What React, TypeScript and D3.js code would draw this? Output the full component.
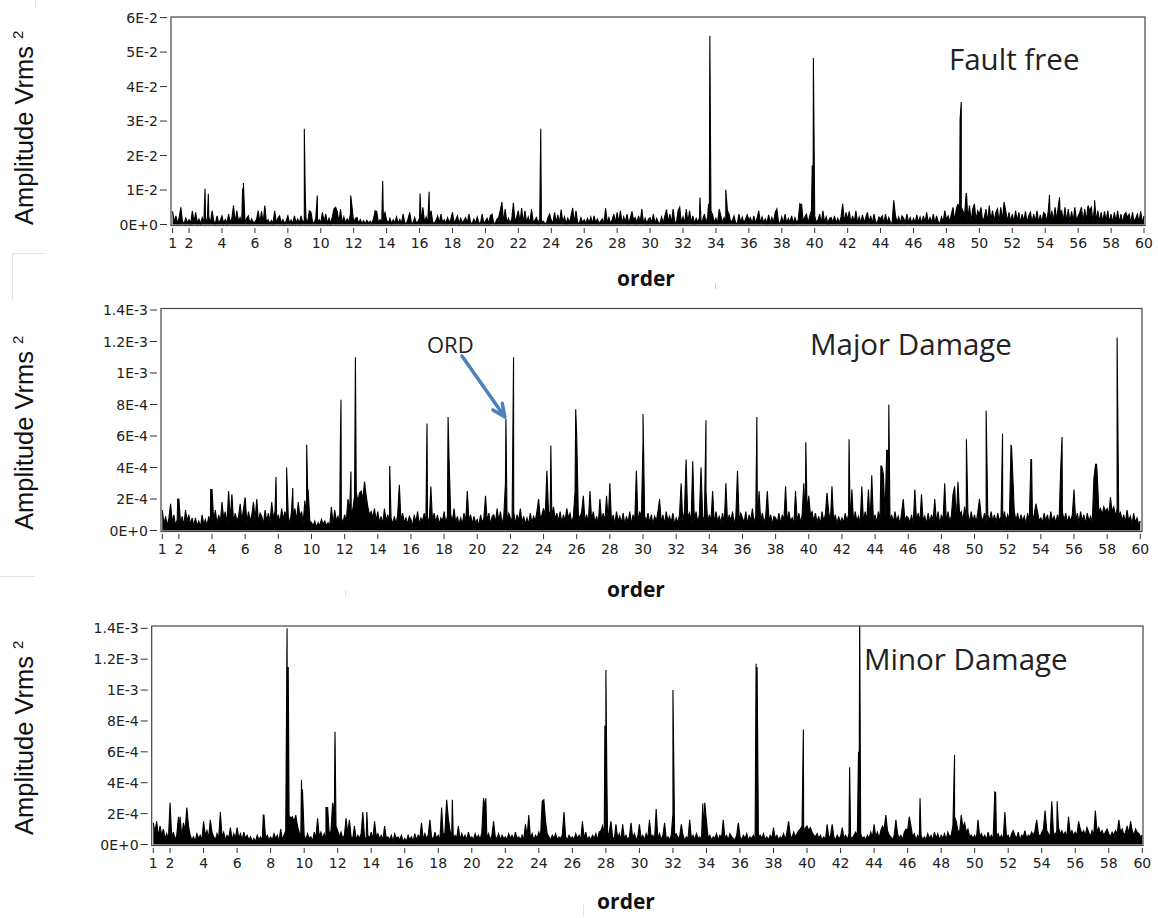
import React from "react";
import * as d3 from "d3";

// ---------- shared axis data ----------
const ORDER_START = 1;
const ORDER_STEP = 0.1;
const xTickValues = [1, 2, 4, 6, 8, 10, 12, 14, 16, 18, 20, 22, 24, 26, 28, 30, 32, 34, 36, 38, 40, 42, 44, 46, 48, 50, 52, 54, 56, 58, 60];

const ffYTicks = [0, 0.01, 0.02, 0.03, 0.04, 0.05, 0.06];
const ffYLabels = ["0E+0", "1E-2", "2E-2", "3E-2", "4E-2", "5E-2", "6E-2"];
const dmgYTicks = [0, 0.0002, 0.0004, 0.0006, 0.0008, 0.001, 0.0012, 0.0014];
const dmgYLabels = ["0E+0", "2E-4", "4E-4", "6E-4", "8E-4", "1E-3", "1.2E-3", "1.4E-3"];

// ---------- Fault free (units of 1E-4), sampled every 0.1 order from 1 ----------
const FF_UNIT = 1e-4;
const faultFreeNoise = [
  38, 6, 25, 4, 20, 50, 8, 3, 18, 5,
  14, 3, 40, 6, 35, 4, 16, 3, 20, 6,
  18, 4, 22, 5, 40, 10, 3, 25, 4, 12,
  25, 4, 15, 3, 30, 6, 18, 55, 5, 40,
  10, 20, 4, 14, 3, 18, 25, 4, 16, 6,
  8, 15, 40, 5, 38, 4, 55, 6, 14, 3,
  12, 3, 40, 5, 18, 25, 4, 14, 3, 11,
  25, 4, 13, 3, 25, 5, 16, 4, 25, 6,
  12, 18, 4, 40, 36, 8, 3, 20, 5, 14,
  5, 35, 8, 30, 4, 18, 3, 22, 45, 50,
  38, 6, 45, 4, 22, 5, 16, 8, 30, 50,
  5, 18, 20, 3, 14, 4, 11, 3, 12, 4,
  10, 3, 16, 40, 38, 5, 14, 4, 22, 35,
  12, 4, 18, 3, 14, 5, 22, 4, 15, 3,
  30, 5, 4, 16, 35, 6, 3, 20, 5, 8,
  18, 4, 50, 6, 22, 5, 20, 40, 6, 4,
  12, 25, 4, 30, 5, 14, 3, 20, 6, 16,
  35, 4, 14, 25, 3, 18, 5, 12, 20, 4,
  30, 6, 3, 16, 4, 22, 6, 3, 30, 5,
  10, 18, 4, 25, 30, 5, 3, 16, 20, 40,
  65, 8, 45, 5, 18, 4, 16, 63, 6, 22,
  40, 5, 48, 4, 40, 6, 22, 4, 45, 6,
  12, 20, 3, 18, 5, 10, 4, 3, 20, 30,
  12, 4, 35, 6, 28, 4, 43, 6, 22, 3,
  18, 5, 25, 48, 4, 40, 6, 3, 20, 5,
  14, 3, 18, 4, 22, 3, 25, 5, 16, 3,
  10, 16, 3, 47, 5, 20, 4, 14, 30, 5,
  35, 5, 40, 3, 22, 6, 30, 4, 18, 38,
  12, 20, 4, 25, 6, 45, 4, 18, 3, 16,
  20, 5, 30, 3, 18, 6, 3, 22, 5, 25,
  43, 6, 30, 4, 45, 8, 5, 40, 50, 6,
  22, 4, 45, 6, 40, 5, 25, 3, 18, 6,
  20, 6, 14, 30, 5, 22, 8, 40, 28, 6,
  18, 5, 45, 25, 6, 20, 8, 40, 30, 6,
  12, 25, 5, 3, 30, 6, 22, 4, 16, 28,
  14, 20, 3, 25, 5, 18, 40, 4, 22, 6,
  16, 4, 28, 5, 20, 6, 35, 45, 8, 4,
  22, 5, 30, 3, 18, 6, 25, 4, 20, 6,
  14, 60, 55, 8, 22, 30, 5, 25, 40, 35,
  25, 6, 14, 30, 4, 40, 6, 22, 3, 18,
  20, 5, 25, 4, 18, 5, 22, 60, 6, 35,
  14, 38, 4, 25, 6, 40, 4, 22, 5, 28,
  5, 20, 35, 6, 25, 4, 30, 8, 5, 22,
  16, 25, 4, 30, 5, 20, 6, 4, 70, 28,
  6, 22, 4, 25, 18, 5, 30, 6, 20, 4,
  18, 5, 28, 6, 22, 4, 25, 6, 35, 5,
  20, 6, 30, 4, 25, 8, 4, 22, 6, 40,
  14, 25, 8, 30, 50, 10, 45, 60, 35, 50,
  40, 25, 90, 15, 55, 10, 45, 60, 12, 40,
  30, 50, 10, 20, 45, 8, 55, 12, 40, 10,
  35, 45, 8, 50, 12, 65, 40, 10, 35, 8,
  30, 6, 40, 10, 35, 5, 30, 8, 38, 6,
  25, 35, 6, 30, 8, 40, 5, 28, 6, 35,
  30, 8, 45, 6, 40, 10, 50, 12, 55, 35,
  40, 10, 50, 8, 45, 6, 38, 10, 50, 12,
  25, 35, 50, 8, 45, 10, 55, 40, 50, 8,
  55, 10, 40, 8, 35, 6, 38, 10, 40, 6,
  30, 5, 35, 8, 40, 5, 30, 4, 28, 35,
  20, 30, 5, 35, 8, 18, 30, 6, 38, 5,
  25,
];
const faultFreePeaks: [number, number][] = [
  [2.97, 104], [3.17, 89], [5.25, 104], [5.3, 120], [9.0, 278], [9.06, 80], [9.79, 84],
  [11.82, 84], [13.76, 126], [16.03, 90], [16.58, 95], [23.36, 278], [33.03, 78],
  [33.55, 60], [33.63, 547], [34.6, 101], [39.2, 60], [39.85, 171], [39.92, 483],
  [48.83, 305], [48.9, 355], [49.22, 90], [54.26, 86], [54.87, 79], [57.0, 70],
];

// ---------- Major Damage (units of 1E-5) ----------
const DMG_UNIT = 1e-5;
const majorNoise = [
  13, 4, 9, 3, 8, 17, 5, 10, 3, 7,
  20, 5, 9, 3, 13, 6, 10, 4, 8, 3,
  8, 3, 6, 2, 10, 4, 7, 3, 9, 5,
  26, 6, 13, 4, 10, 5, 18, 8, 12, 4,
  25, 7, 23, 5, 11, 6, 9, 17, 6, 14,
  21, 5, 12, 6, 10, 18, 7, 20, 5, 11,
  9, 4, 13, 6, 11, 5, 18, 8, 12, 6,
  10, 5, 14, 7, 12, 6, 9, 4, 13, 8,
  14, 6, 18, 9, 12, 5, 19, 8, 11, 6,
  5, 3, 6, 2, 5, 3, 7, 4, 6, 3,
  5, 3, 15, 4, 13, 6, 9, 4, 8, 5,
  10, 6, 20, 12, 9, 14, 22, 25, 18, 24,
  25, 20, 31, 22, 15, 10, 12, 8, 14, 6,
  12, 5, 9, 4, 14, 6, 10, 5, 8, 4,
  9, 4, 10, 29, 6, 11, 5, 8, 4, 9,
  7, 3, 10, 5, 12, 4, 8, 6, 11, 5,
  9, 4, 28, 6, 11, 5, 10, 4, 8, 6,
  12, 5, 9, 45, 10, 6, 14, 5, 9, 4,
  8, 4, 11, 5, 25, 6, 10, 4, 9, 5,
  7, 3, 10, 5, 8, 22, 6, 11, 4, 9,
  10, 5, 14, 6, 12, 4, 9, 30, 6, 11,
  8, 5, 12, 4, 10, 6, 14, 5, 9, 4,
  8, 4, 11, 5, 9, 6, 12, 20, 8, 10,
  14, 9, 38, 12, 10, 8, 15, 7, 11, 6,
  12, 5, 10, 6, 14, 8, 11, 5, 9, 25,
  60, 10, 8, 12, 22, 6, 10, 5, 25, 7,
  12, 5, 9, 4, 20, 6, 11, 5, 22, 6,
  30, 5, 10, 4, 12, 6, 9, 5, 11, 4,
  9, 5, 12, 4, 10, 6, 38, 5, 12, 8,
  56, 9, 6, 11, 5, 10, 4, 9, 6, 12,
  20, 5, 10, 4, 12, 6, 9, 5, 11, 4,
  8, 5, 10, 30, 6, 12, 45, 8, 11, 5,
  44, 6, 12, 5, 10, 40, 9, 6, 25, 5,
  10, 6, 25, 4, 12, 6, 9, 5, 11, 4,
  30, 5, 10, 6, 12, 4, 9, 38, 6, 11,
  8, 5, 12, 4, 10, 6, 14, 5, 9, 4,
  25, 6, 11, 5, 9, 25, 6, 10, 4, 9,
  8, 5, 11, 4, 10, 6, 28, 5, 12, 6,
  8, 4, 25, 6, 11, 5, 10, 30, 6, 12,
  22, 10, 12, 6, 11, 5, 9, 4, 12, 6,
  10, 24, 12, 5, 28, 6, 10, 4, 9, 5,
  8, 5, 11, 6, 10, 4, 26, 5, 12, 6,
  9, 4, 28, 5, 12, 6, 26, 5, 35, 6,
  10, 5, 12, 6, 41, 36, 9, 51, 12, 6,
  10, 5, 12, 6, 9, 4, 11, 20, 6, 9,
  8, 5, 10, 4, 26, 6, 11, 5, 23, 6,
  9, 4, 11, 5, 10, 6, 20, 5, 12, 4,
  10, 6, 30, 5, 12, 6, 9, 23, 28, 6,
  31, 10, 12, 6, 15, 8, 11, 5, 12, 6,
  10, 5, 12, 20, 9, 6, 11, 5, 10, 6,
  12, 6, 10, 5, 11, 6, 9, 4, 12, 6,
  10, 6, 54, 37, 12, 6, 11, 5, 10, 6,
  9, 4, 11, 5, 45, 6, 10, 17, 12, 6,
  8, 5, 11, 6, 10, 4, 12, 6, 9, 5,
  10, 6, 40, 12, 6, 11, 5, 9, 6, 10,
  26, 6, 11, 5, 12, 6, 10, 4, 11, 6,
  9, 5, 33, 42, 36, 12, 14, 10, 15, 12,
  14, 10, 21, 12, 15, 9, 14, 8, 12, 6,
  10, 5, 13, 6, 9, 4, 11, 5, 8, 4,
  6,
];
const majorPeaks: [number, number][] = [
  [1.93, 20], [3.92, 26], [7.86, 34], [8.5, 40], [8.87, 27], [9.71, 54.5], [9.8, 26],
  [11.74, 54], [11.78, 83], [12.38, 37.5], [12.65, 110], [14.72, 41], [16.97, 68],
  [18.24, 72], [21.73, 71], [22.19, 110], [24.44, 54], [25.94, 77], [30.0, 74],
  [32.6, 45], [33.8, 70], [36.87, 72], [39.82, 56], [42.43, 58], [44.35, 41],
  [44.75, 51], [44.83, 80], [49.51, 58], [50.7, 76], [51.69, 61.5], [52.23, 53.7],
  [53.44, 45], [55.28, 59.4], [57.36, 42], [58.6, 122.6],
];

// ---------- Minor Damage (units of 1E-5) ----------
const minorNoise = [
  14, 8, 15, 5, 12, 6, 10, 4, 7, 3,
  27, 4, 8, 3, 6, 18, 10, 5, 14, 9,
  24, 12, 6, 3, 5, 2, 7, 4, 6, 3,
  15, 6, 9, 4, 16, 8, 5, 3, 7, 4,
  21, 5, 8, 3, 6, 4, 11, 3, 7, 4,
  11, 4, 7, 3, 8, 4, 6, 3, 5, 2,
  4, 2, 6, 3, 5, 2, 19, 4, 6, 3,
  5, 3, 7, 4, 6, 2, 10, 3, 6, 9,
  18, 19, 17, 18, 15, 19, 12, 8, 6, 4,
  6, 3, 7, 4, 5, 2, 8, 4, 17, 5,
  8, 4, 7, 3, 24, 6, 9, 27, 20, 12,
  9, 5, 8, 4, 6, 17, 7, 16, 5, 4,
  12, 3, 6, 4, 7, 21, 5, 3, 6, 4,
  8, 3, 15, 5, 7, 4, 6, 3, 12, 4,
  5, 3, 6, 2, 7, 4, 5, 3, 6, 2,
  4, 2, 6, 3, 5, 2, 7, 3, 6, 4,
  14, 3, 7, 4, 6, 16, 5, 3, 8, 4,
  6, 3, 24, 5, 8, 29, 17, 9, 5, 3,
  6, 4, 12, 3, 7, 4, 6, 3, 8, 4,
  5, 3, 7, 4, 6, 3, 8, 30, 24, 4,
  7, 3, 6, 15, 5, 4, 7, 3, 6, 4,
  5, 3, 7, 4, 6, 3, 8, 4, 5, 3,
  6, 3, 13, 5, 19, 4, 7, 3, 6, 4,
  8, 5, 28, 29, 15, 7, 5, 3, 6, 4,
  7, 3, 5, 4, 6, 21, 5, 3, 6, 4,
  5, 3, 7, 4, 6, 3, 15, 4, 8, 3,
  5, 3, 6, 4, 7, 3, 8, 9, 12, 6,
  10, 6, 8, 15, 5, 3, 13, 4, 7, 3,
  13, 4, 6, 3, 5, 14, 4, 7, 3, 5,
  13, 4, 6, 3, 7, 4, 16, 5, 6, 3,
  23, 4, 7, 3, 6, 14, 4, 5, 3, 6,
  20, 6, 7, 4, 5, 13, 6, 3, 5, 4,
  16, 4, 6, 3, 7, 4, 5, 3, 8, 27,
  15, 4, 6, 3, 5, 4, 7, 3, 6, 4,
  16, 4, 6, 3, 7, 5, 4, 3, 6, 14,
  5, 3, 6, 4, 7, 3, 5, 4, 6, 3,
  11, 5, 6, 4, 7, 3, 5, 3, 6, 4,
  11, 4, 6, 3, 5, 4, 7, 3, 8, 15,
  6, 4, 8, 5, 7, 9, 10, 12, 8, 11,
  12, 9, 11, 8, 6, 5, 7, 4, 6, 3,
  5, 3, 13, 4, 6, 13, 5, 3, 6, 4,
  5, 11, 4, 6, 3, 7, 5, 4, 6, 8,
  6, 3, 7, 4, 5, 3, 6, 4, 8, 5,
  13, 5, 8, 4, 9, 12, 10, 19, 9, 6,
  5, 3, 6, 16, 7, 4, 6, 3, 8, 10,
  9, 18, 12, 5, 7, 3, 6, 4, 6, 3,
  5, 3, 7, 4, 6, 3, 8, 4, 7, 3,
  6, 4, 7, 3, 8, 5, 6, 12, 18, 15,
  9, 8, 19, 11, 14, 8, 10, 5, 6, 4,
  6, 3, 16, 5, 7, 4, 6, 3, 8, 4,
  6, 3, 34, 5, 7, 4, 6, 3, 21, 5,
  6, 3, 7, 9, 6, 4, 8, 3, 6, 5,
  9, 4, 6, 5, 8, 6, 9, 16, 7, 5,
  8, 10, 22, 9, 7, 5, 28, 8, 6, 9,
  11, 7, 9, 6, 8, 5, 18, 7, 9, 6,
  8, 6, 15, 10, 7, 9, 6, 11, 8, 5,
  9, 6, 22, 8, 11, 7, 9, 6, 8, 10,
  7, 5, 8, 6, 9, 7, 16, 8, 10, 6,
  8, 12, 7, 15, 9, 6, 10, 8, 7, 5,
  6,
];
const minorPeaks: [number, number][] = [
  [2.6, 18], [7.56, 19], [8.98, 140], [9.05, 115], [9.84, 42], [9.9, 35.6], [11.3, 24],
  [11.84, 73], [13.74, 21], [18.84, 29], [20.84, 30], [24.3, 29], [27.94, 77], [28.0, 113],
  [28.06, 42], [31.0, 23], [32.0, 100], [33.78, 26.6], [36.96, 117], [37.02, 115],
  [39.78, 74.5], [42.54, 50], [43.07, 60], [43.14, 150], [46.74, 30], [48.8, 58],
  [51.25, 33.7], [54.92, 28],
];

type Pt = [number, number];

function buildSeries(noise: number[], peaks: [number, number][], unit: number): Pt[] {
  const pts: Pt[] = noise.map((v, i) => [ORDER_START + i * ORDER_STEP, v * unit] as Pt);
  peaks.forEach((p) => pts.push([p[0], p[1] * unit]));
  pts.sort((a, b) => a[0] - b[0]);
  return pts;
}

type PanelCfg = {
  id: string;
  left: number; right: number; top: number; bottom: number;
  xr: [number, number];
  yr: [number, number];
  yMax: number;
  yTicks: number[]; yLabels: string[];
  data: Pt[];
  title: string; titleX: number; titleY: number;
  orderX: number; orderY: number;
  ylabY: number;
};

const panels: PanelCfg[] = [
  {
    id: "ff", left: 171, right: 1145, top: 17, bottom: 225.5,
    xr: [172.6, 1144], yr: [224.5, 17.6], yMax: 0.06,
    yTicks: ffYTicks, yLabels: ffYLabels,
    data: buildSeries(faultFreeNoise, faultFreePeaks, FF_UNIT),
    title: "Fault free", titleX: 949, titleY: 70,
    orderX: 646, orderY: 286, ylabY: 225,
  },
  {
    id: "major", left: 161, right: 1142, top: 308.5, bottom: 531.5,
    xr: [162.3, 1140.3], yr: [530.5, 310], yMax: 0.0014,
    yTicks: dmgYTicks, yLabels: dmgYLabels,
    data: buildSeries(majorNoise, majorPeaks, DMG_UNIT),
    title: "Major Damage", titleX: 810, titleY: 355,
    orderX: 636, orderY: 597, ylabY: 530,
  },
  {
    id: "minor", left: 151.7, right: 1143, top: 626, bottom: 845.5,
    xr: [153.3, 1142.3], yr: [844.5, 628.3], yMax: 0.0014,
    yTicks: dmgYTicks, yLabels: dmgYLabels,
    data: buildSeries(minorNoise, minorPeaks, DMG_UNIT),
    title: "Minor Damage", titleX: 864, titleY: 670,
    orderX: 626, orderY: 909, ylabY: 835,
  },
];

const TICK_FONT = "'DejaVu Sans', Verdana, sans-serif";

function Panel({ p }: { p: PanelCfg }) {
  const x = d3.scaleLinear().domain([1, 60]).range(p.xr);
  const y = d3.scaleLinear().domain([0, p.yMax]).range(p.yr);
  const line = d3.line<Pt>().x((d) => x(d[0])).y((d) => y(d[1]));
  const area = d3.area<Pt>().x((d) => x(d[0])).y0(y(0)).y1((d) => y(d[1]));
  const clipId = `clip-${p.id}`;
  return (
    <g>
      <defs>
        <clipPath id={clipId}>
          <rect x={p.left} y={p.top} width={p.right - p.left} height={p.bottom - p.top} />
        </clipPath>
      </defs>
      <g clipPath={`url(#${clipId})`}>
        <path d={area(p.data) || ""} fill="#000" stroke="none" />
        <path d={line(p.data) || ""} fill="none" stroke="#000" strokeWidth={1.1} />
      </g>
      <rect x={p.left} y={p.top} width={p.right - p.left} height={p.bottom - p.top} fill="none" stroke="#444" strokeWidth={1.2} />
      {p.yTicks.map((t, i) => (
        <g key={`y${i}`}>
          <line x1={p.left - 11} x2={p.left - 4} y1={y(t)} y2={y(t)} stroke="#333" strokeWidth={1} />
          <text x={p.left - 13} y={y(t)} dy="0.36em" textAnchor="end" fontFamily={TICK_FONT} fontSize={14} fill="#222">
            {p.yLabels[i]}
          </text>
        </g>
      ))}
      {xTickValues.map((t) => (
        <g key={`x${t}`}>
          <line x1={x(t)} x2={x(t)} y1={p.bottom + 2.5} y2={p.bottom + 7.5} stroke="#333" strokeWidth={1} />
          <text x={x(t)} y={p.bottom + 22} textAnchor="middle" fontFamily={TICK_FONT} fontSize={14} fill="#222">
            {t}
          </text>
        </g>
      ))}
      <text x={p.titleX} y={p.titleY} fontFamily="'Open Sans', sans-serif" fontSize={29.5} fill="#222">
        {p.title}
      </text>
      <text x={p.orderX} y={p.orderY} textAnchor="middle" fontFamily="'Open Sans', sans-serif" fontWeight="bold" fontSize={21} fill="#111">
        order
      </text>
      <text transform={`translate(33, ${p.ylabY}) rotate(-90)`} fontFamily="'Liberation Sans', Arial, sans-serif" fontSize={25.5} fill="#111">
        Amplitude Vrms{" "}
        <tspan fontSize={15} dy={-10}>2</tspan>
      </text>
    </g>
  );
}

export default function App() {
  const major = panels[1];
  const mx = d3.scaleLinear().domain([1, 60]).range(major.xr);
  const my = d3.scaleLinear().domain([0, major.yMax]).range(major.yr);
  const tipX = mx(21.73) - 1;
  const tipY = my(0.00072);
  const startX = 462;
  const startY = 356;
  const ang = Math.atan2(tipY - startY, tipX - startX);
  const headLen = 14;
  const spread = 0.42;
  const b1x = tipX - headLen * Math.cos(ang - spread);
  const b1y = tipY - headLen * Math.sin(ang - spread);
  const b2x = tipX - headLen * Math.cos(ang + spread);
  const b2y = tipY - headLen * Math.sin(ang + spread);
  return (
    <svg width={1158} height={918} style={{ position: "absolute", left: 0, top: 0, background: "#fff" }}>
      <rect x={0} y={0} width={1158} height={918} fill="#fff" />
      {/* faint screenshot artefacts */}
      <g stroke="#e2e2e2" strokeWidth={1}>
        <line x1={35.5} x2={35.5} y1={0} y2={7} />
        <line x1={12} x2={46} y1={253.5} y2={253.5} />
        <line x1={12.5} x2={12.5} y1={253} y2={300} />
        <line x1={0} x2={35} y1={576.5} y2={576.5} />
        <line x1={345.5} x2={345.5} y1={590} y2={596} />
        <line x1={583.5} x2={583.5} y1={904} y2={916} />
      </g>
      <line x1={715.5} x2={715.5} y1={283} y2={289} stroke="#b8d4ee" strokeWidth={1} />
      {panels.map((p) => (
        <Panel key={p.id} p={p} />
      ))}
      <text x={427} y={353} fontFamily="'Open Sans', sans-serif" fontSize={22} fill="#222">ORD</text>
      <line x1={startX} y1={startY} x2={tipX - 2 * Math.cos(ang)} y2={tipY - 2 * Math.sin(ang)} stroke="#4f81bd" strokeWidth={3.5} strokeLinecap="round" />
      <polyline points={`${b1x},${b1y} ${tipX},${tipY} ${b2x},${b2y}`} fill="none" stroke="#4f81bd" strokeWidth={3.5} strokeLinecap="round" strokeLinejoin="round" />
    </svg>
  );
}
